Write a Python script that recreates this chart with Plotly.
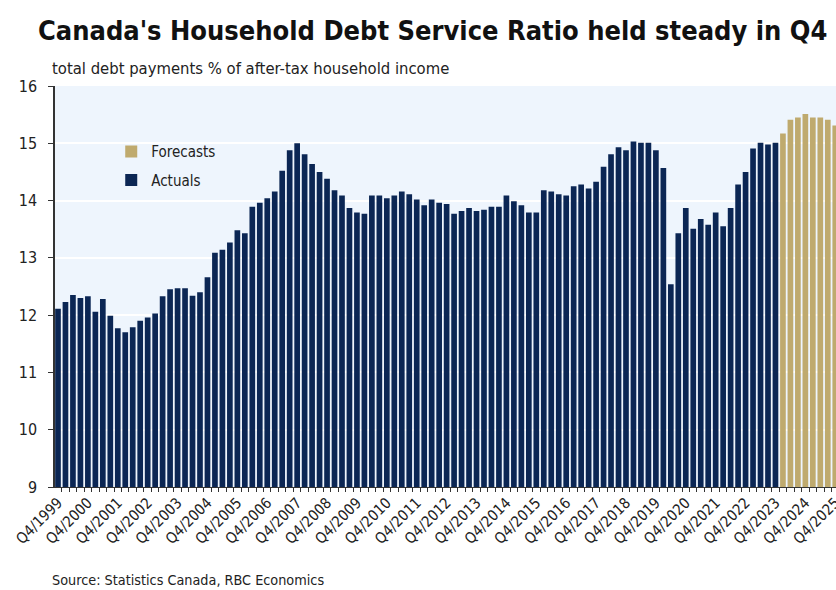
import plotly.graph_objects as go

# Quarterly debt service ratio, Q4/1999 .. Q4/2025
actuals = [
    12.11, 12.23, 12.35, 12.30, 12.33, 12.06, 12.28, 11.99, 11.77, 11.70,
    11.79, 11.90, 11.96, 12.03, 12.33, 12.45, 12.47, 12.47, 12.34, 12.40,
    12.66, 13.09, 13.14, 13.27, 13.48, 13.43, 13.89, 13.96, 14.04, 14.16,
    14.52, 14.88, 15.00, 14.81, 14.64, 14.50, 14.38, 14.18, 14.09, 13.87,
    13.79, 13.77, 14.09, 14.09, 14.04, 14.09, 14.16, 14.11, 14.02, 13.92,
    14.02, 13.96, 13.94, 13.77, 13.82, 13.87, 13.82, 13.84, 13.89, 13.89,
    14.09, 13.99, 13.92, 13.79, 13.79, 14.18, 14.16, 14.11, 14.09, 14.25,
    14.28, 14.21, 14.33, 14.59, 14.81, 14.93, 14.88, 15.03, 15.01, 15.01,
    14.88, 14.57, 12.54, 13.43, 13.87, 13.51, 13.68, 13.58, 13.79, 13.55,
    13.87, 14.28, 14.50, 14.91, 15.01, 14.98, 15.01,
]
forecasts = [15.17, 15.41, 15.45, 15.51, 15.45, 15.45, 15.41, 15.31]

start_year, start_q = 1999, 4
n_total = len(actuals) + len(forecasts)
quarters = []
y, q = start_year, start_q
for _ in range(n_total):
    quarters.append(f"Q{q}/{y}")
    q += 1
    if q > 4:
        q = 1
        y += 1

x_act = list(range(len(actuals)))
x_fc = list(range(len(actuals), n_total))
tick_idx = [i for i, lab in enumerate(quarters) if lab.startswith("Q4/")]
tick_txt = [quarters[i] for i in tick_idx]

NAVY = "#0b2654"
GOLD = "#bfaa6e"
FONT = "DejaVu Sans Condensed, DejaVu Sans, sans-serif"

fig = go.Figure()
fig.add_trace(go.Bar(x=x_act, y=actuals, name="Actuals", marker_color=NAVY,
                     marker_line_width=0, legendgroup="a", legendrank=2,
                     customdata=[quarters[i] for i in x_act],
                     hovertemplate="%{customdata}: %{y:.2f}<extra></extra>"))
fig.add_trace(go.Bar(x=x_fc, y=forecasts, name="Forecasts", marker_color=GOLD,
                     marker_line_width=0, legendgroup="f", legendrank=1,
                     customdata=[quarters[i] for i in x_fc],
                     hovertemplate="%{customdata}: %{y:.2f}<extra></extra>"))

fig.update_layout(
    width=836, height=590,
    margin=dict(l=55, r=0, t=86, b=103, autoexpand=False),
    paper_bgcolor="white",
    plot_bgcolor="#eef5fd",
    bargap=0.24,
    barmode="overlay",
    font=dict(family=FONT, color="#222222"),
    showlegend=True,
    legend=dict(x=0.072, y=0.877, xanchor="left", yanchor="top",
                bgcolor="rgba(0,0,0,0)", font=dict(size=15, color="#222222"),
                traceorder="grouped", tracegroupgap=6, itemwidth=30),
    xaxis=dict(range=[-0.4, 104.1], tickmode="array", tickvals=tick_idx,
               ticktext=tick_txt, tickangle=-45, showgrid=False,
               ticks="", showline=True, linecolor="#333333", linewidth=1,
               ticklabeloverflow="allow", automargin=False,
               tickfont=dict(size=15, color="#222222"),
               minor=dict(tick0=-0.5, dtick=1, ticks="outside", ticklen=4,
                          tickcolor="#333333", showgrid=False),
               zeroline=False, fixedrange=True),
    yaxis=dict(range=[9, 16], dtick=1, tick0=9, showgrid=True,
               gridcolor="#ffffff", gridwidth=1.5, showline=True,
               linecolor="#333333", linewidth=1.5, ticks="outside",
               ticklen=5, tickcolor="#333333", ticklabelstandoff=8,
               automargin=False,
               tickfont=dict(size=16, color="#222222"), zeroline=False),
    annotations=[
        dict(text="<b>Canada's Household Debt Service Ratio held steady in Q4</b>",
             xref="paper", yref="paper", x=0.483, y=1, yshift=56,
             xanchor="center", yanchor="middle", showarrow=False,
             font=dict(size=27, color="#111111", family=FONT)),
        dict(text="total debt payments % of after-tax household income",
             xref="paper", yref="paper", x=-0.007, y=1, yshift=18,
             xanchor="left", yanchor="middle", showarrow=False,
             font=dict(size=16.5, color="#222222", family=FONT)),
        dict(text="Source: Statistics Canada, RBC Economics",
             xref="paper", yref="paper", x=-0.007, y=0, yshift=-93,
             xanchor="left", yanchor="middle", showarrow=False,
             font=dict(size=14.3, color="#222222", family=FONT)),
    ],
)

fig.write_html("out.html")
